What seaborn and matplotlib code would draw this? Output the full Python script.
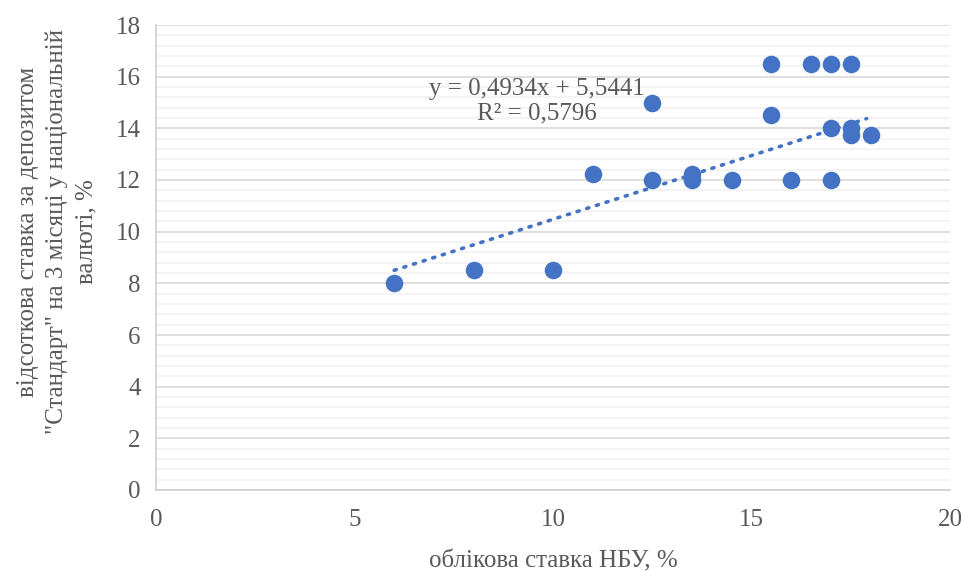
import numpy as np
import pandas as pd
import seaborn as sns
from matplotlib import pyplot as plt
from matplotlib.ticker import MultipleLocator

# облікова ставка НБУ vs ставка за депозитом "Стандарт"
nbu_rate = [6, 8, 10, 11, 12.5, 12.5, 13.5, 13.5, 14.5, 15.5, 15.5, 16, 16.5,
            17, 17, 17, 17.5, 17.5, 17.5, 18]
deposit_rate = [8, 8.5, 8.5, 12.25, 15, 12, 12.25, 12, 12, 16.5, 14.5, 12, 16.5,
                16.5, 14, 12, 16.5, 14, 13.75, 13.75]

# linear trendline as reported in the chart
trend_slope = 0.4934
trend_intercept = 5.5441
trend_r2 = 0.5796
trend_x = [6, 17.9]

df = pd.DataFrame({'x': nbu_rate, 'y': deposit_rate})
trend = pd.DataFrame({'x': trend_x})
trend['y'] = trend_slope * trend['x'] + trend_intercept

sns.set_style('white')
plt.rcParams['font.family'] = ['Liberation Serif', 'DejaVu Serif']
text_color = '#595959'
blue = '#4472C4'

fig, ax = plt.subplots(figsize=(9.63, 5.71), dpi=100)
fig.subplots_adjust(left=156/963, right=950/963, top=1-25/571, bottom=1-490/571)

sns.lineplot(data=trend, x='x', y='y', ax=ax, color=blue, linestyle=(0, (0.6, 2.2)),
             linewidth=2.6, dash_capstyle='round', zorder=2)
sns.scatterplot(data=df, x='x', y='y', ax=ax, color=blue, s=160, edgecolor=blue,
                linewidth=0, zorder=3)

ax.set_xlim(0, 20)
ax.set_ylim(0, 18)
ax.xaxis.set_major_locator(MultipleLocator(5))
ax.yaxis.set_major_locator(MultipleLocator(2))
ax.yaxis.set_minor_locator(MultipleLocator(0.4))
ax.grid(which='major', axis='y', color='#d9d9d9', linewidth=1.2, zorder=0)
ax.grid(which='minor', axis='y', color='#f2f2f2', linewidth=1.2, zorder=0)
ax.set_axisbelow(True)

for side in ['top', 'right']:
    ax.spines[side].set_visible(False)
for side in ['left', 'bottom']:
    ax.spines[side].set_color('#d0d0d0')
    ax.spines[side].set_linewidth(1.2)

ax.tick_params(which='major', direction='out', length=5, width=1.2, color='#d0d0d0',
               labelsize=18, labelcolor=text_color, pad=6)
ax.tick_params(axis='x', which='major', pad=9)
ax.tick_params(which='minor', length=0)

ax.set_xlabel('облікова ставка НБУ, %', fontsize=18, color=text_color, labelpad=14)
ax.set_ylabel('відсоткова ставка за депозитом\n"Стандарт" на 3 місяці у національній\nвалюті, %',
              fontsize=18, color=text_color, linespacing=1.4)
ax.yaxis.set_label_coords(-0.074, 0.555)

ax.text(9.6, 15.05, 'y = 0,4934x + 5,5441\nR² = 0,5796', ha='center', va='center',
        fontsize=18, color=text_color, linespacing=1.2)

fig.savefig('out.png', dpi=100)
